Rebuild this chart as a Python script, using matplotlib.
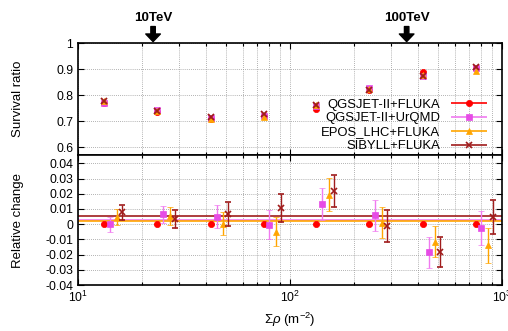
import matplotlib
matplotlib.use("Agg")
import matplotlib.pyplot as plt
import numpy as np
from matplotlib.ticker import FixedLocator, FuncFormatter, LogLocator, NullFormatter
from matplotlib.legend_handler import HandlerErrorbar

plt.rcParams['font.family'] = ['Liberation Sans', 'DejaVu Sans']
plt.rcParams['mathtext.fontset'] = 'custom'
plt.rcParams['mathtext.rm'] = 'Liberation Sans'
plt.rcParams['mathtext.it'] = 'Liberation Sans:italic'
plt.rcParams['axes.unicode_minus'] = False

# ---------------- data ----------------
rho = [13.3, 23.7, 42.2, 75.0, 133.0, 237.0, 422.0, 750.0]
labels = ["QGSJET-II+FLUKA", "QGSJET-II+UrQMD", "EPOS_LHC+FLUKA", "SIBYLL+FLUKA"]

surv_qgs_fluka = [0.772, 0.737, 0.710, 0.719, 0.748, 0.822, 0.889, 0.905]
surv_qgs_urqmd = [0.772, 0.742, 0.714, 0.719, 0.758, 0.827, 0.873, 0.903]
surv_epos_fluka = [0.776, 0.741, 0.710, 0.715, 0.763, 0.823, 0.879, 0.892]
surv_sib_fluka = [0.778, 0.739, 0.715, 0.727, 0.764, 0.821, 0.873, 0.909]

rel_qgs_fluka = [0, 0, 0, 0, 0, 0, 0, 0]
err_qgs_fluka = [0, 0, 0, 0, 0, 0, 0, 0]
rel_qgs_urqmd = [0.0, 0.0064, 0.005, -0.0005, 0.013, 0.0058, -0.0184, -0.0025]
err_qgs_urqmd = [0.005, 0.0058, 0.0077, 0.0095, 0.0105, 0.0102, 0.0101, 0.0113]
rel_epos_fluka = [0.0047, 0.0055, 0.0003, -0.0051, 0.0195, 0.0008, -0.0115, -0.014]
err_epos_fluka = [0.005, 0.006, 0.0076, 0.0095, 0.011, 0.0102, 0.010, 0.0115]
rel_sib_fluka = [0.0077, 0.0033, 0.0067, 0.0108, 0.0217, -0.0012, -0.0182, 0.0049]
err_sib_fluka = [0.005, 0.006, 0.008, 0.0093, 0.0107, 0.0104, 0.0098, 0.0111]

mean_rel = [0.0, 0.003, 0.0022, 0.0055]

energy_labels = ["10TeV", "100TeV"]
energy_rho = [22.6, 355.0]

upper_yticks = [0.6, 0.7, 0.8, 0.9, 1.0]
lower_yticks = [0.04, 0.03, 0.02, 0.01, 0, -0.01, -0.02, -0.03, -0.04]

# ---------------- styles ----------------
colors = ['#ff0000', '#e64be6', '#ffa500', '#a01c1c']
ecolors = ['#ff0000', '#f07af0', '#ffa500', '#a01c1c']
markers = ['o', 's', '^', 'x']
msizes = [4.5, 4.5, 4.0, 4.5]
shift = [1.0, 1.067, 1.143, 1.212]

surv = [surv_qgs_fluka, surv_qgs_urqmd, surv_epos_fluka, surv_sib_fluka]
rel = [rel_qgs_fluka, rel_qgs_urqmd, rel_epos_fluka, rel_sib_fluka]
err = [err_qgs_fluka, err_qgs_urqmd, err_epos_fluka, err_sib_fluka]

fig = plt.figure(figsize=(5.08, 3.31), dpi=100)
L, R = 78 / 508, 502 / 508
top_u, mid, bot = 1 - 43.3 / 331, 1 - 155 / 331, 1 - 285 / 331
ax1 = fig.add_axes([L, mid, R - L, top_u - mid])
ax2 = fig.add_axes([L, bot, R - L, mid - bot], sharex=ax1)

x = np.array(rho)
for i in range(4):
    ax1.plot(x, surv[i], linestyle='none', marker=markers[i], color=colors[i],
             markersize=msizes[i] * 1.0, markeredgewidth=1.3 if markers[i] == 'x' else 0.5, zorder=3 + i)

for i in range(4):
    ax2.errorbar(x * shift[i], rel[i], yerr=err[i], linestyle='none', marker=markers[i],
                 color=colors[i], ecolor=ecolors[i], markersize=msizes[i],
                 markeredgewidth=1.2 if markers[i] == 'x' else 0.5,
                 elinewidth=1.0, capsize=2, capthick=1.0, zorder=3 + i)
for i in range(1, 4):
    ax2.axhline(mean_rel[i], color=ecolors[i], lw=1.2, zorder=2)

# legend proxies with horizontal error bars (as in the reference key)
handles = []
for i in range(4):
    h = ax1.errorbar([], [], xerr=[], linestyle='none', marker=markers[i],
                     color=colors[i], ecolor=ecolors[i], markersize=msizes[i],
                     markeredgewidth=1.2 if markers[i] == 'x' else 0.5,
                     elinewidth=1.2, capsize=2.5, capthick=1.0)
    handles.append(h)

for ax in (ax1, ax2):
    ax.set_xscale('log')
    ax.set_xlim(10, 1000)
    ax.tick_params(which='both', direction='in', top=True, right=True, labelsize=8.8, width=0.8)
    ax.tick_params(which='major', length=4)
    ax.tick_params(which='minor', length=2.5)
    ax.xaxis.set_minor_locator(LogLocator(base=10, subs=np.arange(2, 10)))
    ax.xaxis.set_minor_formatter(NullFormatter())
    ax.grid(True, which='major', linestyle=(0, (1, 1.5)), color='#999999', lw=0.6)
    ax.grid(True, which='minor', axis='x', linestyle=(0, (1, 1.5)), color='#999999', lw=0.6)
    ax.set_axisbelow(True)
    for s in ax.spines.values():
        s.set_linewidth(1.2)

ax1.set_ylim(0.57, 1.0)
ax1.yaxis.set_major_locator(FixedLocator(upper_yticks))
ax1.yaxis.set_major_formatter(FuncFormatter(lambda v, p: '%g' % v))
ax1.tick_params(axis='x', labelbottom=False)
ax1.set_ylabel('Survival ratio', fontsize=9.5)

ax2.set_ylim(-0.04, 0.0455)
ax2.yaxis.set_major_locator(FixedLocator(lower_yticks))
ax2.yaxis.set_major_formatter(FuncFormatter(lambda v, p: '%g' % round(v, 3)))
ax2.set_ylabel('Relative change', fontsize=9.5)
ax2.set_xlabel(r'$\Sigma\rho$ (m$^{-2}$)', fontsize=9.5)
ax1.yaxis.set_label_coords(-0.128, 0.5)
ax2.yaxis.set_label_coords(-0.128, 0.5)

leg = ax1.legend(handles, labels, loc='lower right', bbox_to_anchor=(0.99, -0.068),
                 frameon=False, markerfirst=False, fontsize=9.4, handlelength=2.8,
                 labelspacing=0.13, borderpad=0.3, handletextpad=0.8,
                 handler_map={type(handles[0]): HandlerErrorbar(xerr_size=1.35)})
leg.set_zorder(10)

for lab, xr in zip(energy_labels, energy_rho):
    ax1.annotate('', xy=(xr, 1.015), xycoords=('data', 'axes fraction'),
                 xytext=(xr, 1.15), textcoords=('data', 'axes fraction'),
                 arrowprops=dict(facecolor='black', edgecolor='black', width=3.2,
                                 headwidth=10.5, headlength=5.5, shrink=0))
    ax1.text(xr, 1.23, lab, transform=ax1.get_xaxis_transform(), ha='center', va='center',
             fontsize=9.6, fontweight='bold')

fig.savefig('out.png', dpi=100)
